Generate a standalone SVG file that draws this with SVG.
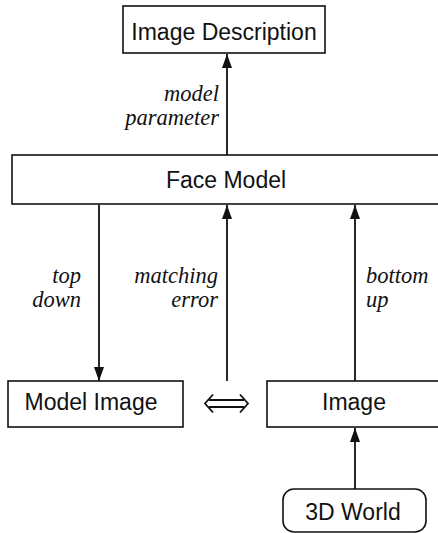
<svg xmlns="http://www.w3.org/2000/svg" width="438" height="533" viewBox="0 0 438 533">
<defs>
<style>
.box{fill:#fff;stroke:#111;stroke-width:1.6}
.lbl{font-family:"Liberation Sans",Arial,Helvetica,sans-serif;font-size:23px;fill:#111;text-anchor:middle}
.it{font-family:"Liberation Serif","Times New Roman",Times,serif;font-style:italic;font-size:22.5px;fill:#111}
.edge{stroke:#111;stroke-width:1.8;fill:none}
</style>
<marker id="ah" viewBox="0 0 14 10" refX="14" refY="5" markerWidth="14" markerHeight="10" markerUnits="userSpaceOnUse" orient="auto">
<path d="M0,0 L14,5 L0,10 Z" fill="#111"/>
</marker>
</defs>
<rect width="438" height="533" fill="#fff"/>
<g id="connectors">
<line class="edge" x1="227" y1="155" x2="227" y2="54" marker-end="url(#ah)"/>
<line class="edge" x1="99" y1="205" x2="99" y2="381" marker-end="url(#ah)"/>
<line class="edge" x1="227" y1="381" x2="227" y2="205" marker-end="url(#ah)"/>
<line class="edge" x1="355" y1="381" x2="355" y2="205" marker-end="url(#ah)"/>
<line class="edge" x1="355" y1="489" x2="355" y2="428" marker-end="url(#ah)"/>
<g id="compare" class="edge" stroke-width="2">
<path d="M213,394.5 L205,403.5 L213,412.5"/>
<path d="M240,394.5 L248,403.5 L240,412.5"/>
<line x1="209" y1="400" x2="244" y2="400"/>
<line x1="209" y1="407" x2="244" y2="407"/>
</g>
<text class="it" x="219" y="101" text-anchor="end">model</text>
<text class="it" x="219" y="125" text-anchor="end">parameter</text>
<text class="it" x="81" y="283" text-anchor="end">top</text>
<text class="it" x="81" y="307" text-anchor="end">down</text>
<text class="it" x="218" y="283" text-anchor="end">matching</text>
<text class="it" x="218" y="307" text-anchor="end">error</text>
<text class="it" x="366" y="283">bottom</text>
<text class="it" x="366" y="307">up</text>
</g>
<g id="image-description">
<rect class="box" x="123" y="6" width="202" height="47"/>
<text class="lbl" x="224" y="40">Image Description</text>
</g>
<g id="face-model">
<rect class="box" x="12" y="155" width="440" height="49"/>
<text class="lbl" x="226" y="188">Face Model</text>
</g>
<g id="model-image">
<rect class="box" x="8" y="381" width="175" height="46"/>
<text class="lbl" x="91" y="410">Model Image</text>
</g>
<g id="image">
<rect class="box" x="267" y="381" width="185" height="46"/>
<text class="lbl" x="354" y="410">Image</text>
</g>
<g id="world">
<rect class="box" x="283" y="489" width="143" height="43" rx="11" ry="11"/>
<text class="lbl" x="353" y="520">3D World</text>
</g>
</svg>
